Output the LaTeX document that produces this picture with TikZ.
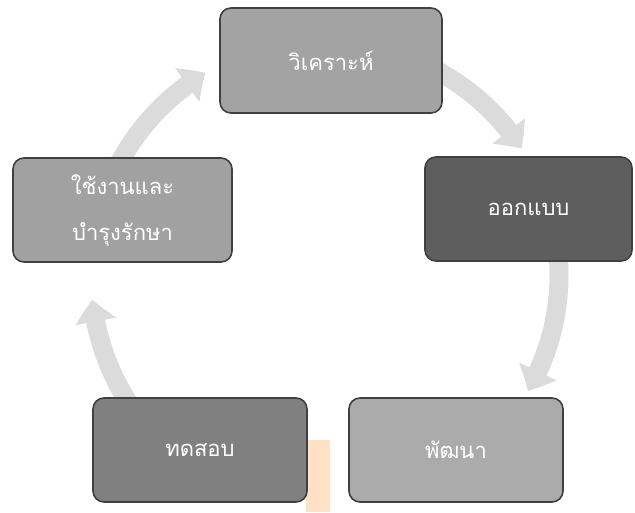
\documentclass[tikz,border=0pt]{standalone}
\usepackage{fontspec}
\newfontfamily\thaifont[Script=Thai]{Loma}
\usetikzlibrary{arrows.meta,bending}
\begin{document}
\begin{tikzpicture}[x=1pt,y=1pt,
  cyc/.style={draw=gray!28,line width=19pt,
    -{Triangle[bend,length=22pt,width=40pt]}},
  box/.style={draw=black!75,line width=1.6pt,rounded corners=11pt,
    minimum width=#1,minimum height=104pt,inner sep=0pt,
    font=\thaifont\fontsize{22}{46}\selectfont,text=white,align=center},
  box/.default=216pt]
\useasboundingbox (0,0) rectangle (635,-512);
% faint scanner stripe
\fill[orange!45,opacity=0.5] (306,-440) rectangle (330,-512);
\coordinate (C) at (327,-275);
% cycle arrows
\draw[cyc] (C) ++(75:232) arc[start angle=75,end angle=33,radius=232];
\draw[cyc] (C) ++(8:232) arc[start angle=8,end angle=-30,radius=232];
\draw[cyc] (C) ++(-140:236) arc[start angle=-140,end angle=-174,radius=236];
\draw[cyc] (C) ++(155:236) arc[start angle=155,end angle=121,radius=236];
% boxes
\node[box=222pt,fill=black!36,minimum height=105pt] (a) at (331,-60.5) {วิเคราะห์};
\node[box=207pt,fill=black!63] (b) at (528.5,-209) {ออกแบบ};
\node[box=214pt,fill=black!33] (c) at (456,-450) {พัฒนา};
\node[box=214pt,fill=black!50] (d) at (200,-450) {ทดสอบ};
\node[box=219pt,fill=black!37] (e) at (122.5,-210) {ใช้งานและ\\บำรุงรักษา};
\end{tikzpicture}
\end{document}
